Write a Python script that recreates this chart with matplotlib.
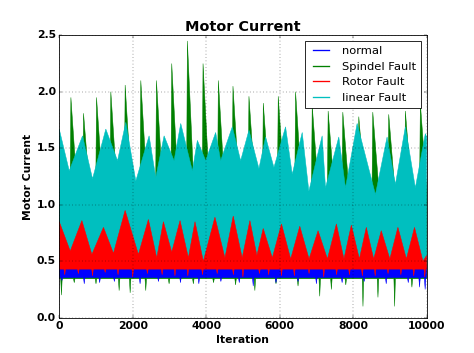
import numpy as np
import matplotlib
matplotlib.use('Agg')
import matplotlib.pyplot as plt
from matplotlib.lines import Line2D

plt.style.use('classic')

# ---- data (envelopes of the dense signals) ----
series_names = ['normal', 'Spindel Fault', 'Rotor Fault', 'linear Fault']
series_colors = ['b', 'g', 'r', 'c']
n_iter = 10000

# normal: thin band, downward dips
normal_top = 0.455
normal_bump_iter = [380, 1700, 3600, 6150, 8500]
normal_bump_val = [0.48, 0.47, 0.48, 0.47, 0.48]
normal_bottom = 0.355
normal_dip_iter = [73, 680, 1100, 1500, 2200, 2700, 3300, 3800, 4400, 4900,
                   5280, 5900, 6500, 7000, 7700, 8300, 8900, 9500, 9808, 9960]
normal_dip_val = [0.33, 0.30, 0.31, 0.32, 0.30, 0.32, 0.31, 0.30, 0.32, 0.31,
                  0.28, 0.31, 0.32, 0.30, 0.31, 0.32, 0.30, 0.31, 0.27, 0.25]

# Spindel Fault: sharp spikes on top, dips at the bottom
spindel_top = 1.0
spindel_peak_iter = [317, 661, 1015, 1404, 1794, 2220, 2646, 3062, 3488, 3914,
                     4331, 4729, 5164, 5554, 5961, 6433, 6886, 7320, 7719, 8154,
                     8535, 8969, 9422, 9830]
spindel_peak_val = [1.95, 1.81, 1.95, 2.00, 2.06, 2.10, 2.10, 2.25, 2.45, 2.25,
                    2.10, 2.05, 1.96, 1.90, 1.96, 2.00, 1.88, 1.83, 1.82, 1.78,
                    1.82, 1.80, 1.83, 1.90]
spindel_bottom = 0.345
spindel_dip_iter = [60, 408, 1000, 1630, 1930, 2355, 2990, 3650, 4200, 4800,
                    5325, 5900, 6500, 7091, 7408, 7800, 8268, 8676, 9130, 9600]
spindel_dip_val = [0.20, 0.31, 0.30, 0.24, 0.22, 0.24, 0.30, 0.30, 0.31, 0.29,
                   0.24, 0.30, 0.28, 0.19, 0.25, 0.29, 0.10, 0.18, 0.10, 0.27]

# Rotor Fault: triangular wave on top
rotor_top_iter = [0, 299, 616, 888, 1204, 1476, 1793, 2155, 2427, 2654,
                  2835, 3062, 3288, 3515, 3695, 3922, 4238, 4510, 4736, 4980,
                  5190, 5380, 5552, 5800, 6050, 6300, 6548, 6800, 7046, 7300,
                  7544, 7750, 7951, 8170, 8359, 8560, 8766, 9000, 9219, 9450,
                  9671, 9900, 10000]
rotor_top_val = [0.85, 0.59, 0.86, 0.56, 0.80, 0.57, 0.95, 0.56, 0.87, 0.53,
                 0.85, 0.58, 0.86, 0.53, 0.85, 0.50, 0.89, 0.53, 0.90, 0.53,
                 0.86, 0.55, 0.79, 0.53, 0.83, 0.52, 0.81, 0.52, 0.77, 0.52,
                 0.83, 0.52, 0.82, 0.52, 0.80, 0.52, 0.77, 0.52, 0.80, 0.52,
                 0.80, 0.50, 0.55]
rotor_bottom = 0.43
rotor_dip_iter = [150, 520, 906, 1250, 1600, 2000, 2400, 2800, 3150, 3500,
                  3900, 4300, 4740, 5000, 5450, 5700, 6050, 6400, 6800, 7200,
                  7550, 7900, 8250, 8600, 8950, 9300, 9650, 9950]
rotor_dip_val = [0.38, 0.39, 0.37, 0.40, 0.38, 0.36, 0.39, 0.38, 0.37, 0.37,
                 0.38, 0.39, 0.38, 0.36, 0.39, 0.38, 0.37, 0.37, 0.39, 0.36,
                 0.38, 0.38, 0.37, 0.37, 0.39, 0.38, 0.37, 0.36]

# linear Fault: wide band, triangular top
linear_top_iter = [0, 272, 634, 906, 1268, 1586, 1812, 2084, 2446, 2627,
                   2854, 3126, 3307, 3624, 3760, 3986, 4258, 4394, 4711, 4938,
                   5164, 5436, 5617, 5844, 6161, 6342, 6614, 6795, 7157, 7248,
                   7610, 7792, 8109, 8607, 8924, 9151, 9422, 9694, 9966, 10000]
linear_top_val = [1.67, 1.30, 1.61, 1.23, 1.67, 1.39, 1.73, 1.21, 1.61, 1.24,
                  1.61, 1.39, 1.72, 1.30, 1.57, 1.39, 1.64, 1.39, 1.69, 1.39,
                  1.66, 1.32, 1.60, 1.33, 1.69, 1.27, 1.64, 1.12, 1.61, 1.15,
                  1.60, 1.15, 1.72, 1.09, 1.60, 1.18, 1.69, 1.15, 1.63, 1.60]
linear_bottom = 0.47


def spiky(base, it, val, left, right):
    # flat level with narrow spikes (up or down) at the given iterations
    xs, ys = [0], [base]
    for t, v in zip(it, val):
        xs += [t - left, t, t + right]
        ys += [base, v, base]
    xs.append(n_iter)
    ys.append(base)
    return np.array(xs), np.array(ys)


def band(ax, top, bottom, color):
    tx, ty = top
    bx, by = bottom
    ax.fill(np.r_[tx, bx[::-1]], np.r_[ty, by[::-1]],
            color=color, edgecolor=color, lw=0.6)


flat = lambda v: (np.array([0, n_iter]), np.array([v, v]))

fig = plt.figure(figsize=(474 / 59.25, 353 / 59.25), dpi=59.25)
ax = fig.add_subplot(111)

# drawing order: green under blue, cyan, red
band(ax, spiky(spindel_top, spindel_peak_iter, spindel_peak_val, 25, 200),
     spiky(spindel_bottom, spindel_dip_iter, spindel_dip_val, 20, 20), 'g')
band(ax, spiky(normal_top, normal_bump_iter, normal_bump_val, 20, 20),
     spiky(normal_bottom, normal_dip_iter, normal_dip_val, 20, 20), 'b')
band(ax, (np.array(linear_top_iter), np.array(linear_top_val)),
     flat(linear_bottom), 'c')
band(ax, (np.array(rotor_top_iter), np.array(rotor_top_val)),
     spiky(rotor_bottom, rotor_dip_iter, rotor_dip_val, 20, 20), 'r')

ax.set_xlim(0, n_iter)
ax.set_ylim(0, 2.5)
ax.set_xticks(np.arange(0, 10001, 2000))
ax.set_yticks(np.arange(0, 2.51, 0.5))
ax.grid(True)

ax.set_title('Motor Current', fontsize=17.5, fontweight='bold')
ax.set_xlabel('Iteration', fontsize=13, fontweight='bold')
ax.set_ylabel('Motor Current', fontsize=13, fontweight='bold')
ax.tick_params(labelsize=13)
for lab in ax.get_xticklabels() + ax.get_yticklabels():
    lab.set_fontweight('bold')

handles = [Line2D([0, 1], [0, 1], color=c, linestyle='-', lw=1.6) for c in series_colors]
ax.legend(handles, series_names, loc='upper right', fontsize=14)

fig.savefig('out.png', dpi=59.25)
